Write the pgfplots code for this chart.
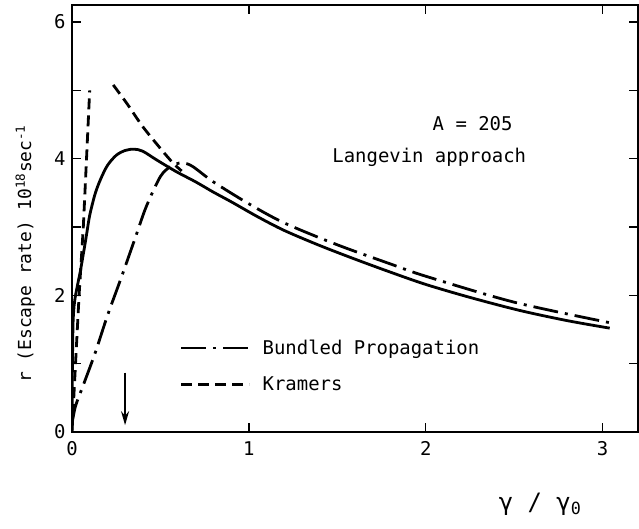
\documentclass[border=0pt]{standalone}
\usepackage{fontspec}
\setmainfont{DejaVu Sans Mono}
\usepackage{pgfplots}
\pgfplotsset{compat=1.18}
\usetikzlibrary{arrows.meta}

\begin{document}
\begin{tikzpicture}
\begin{axis}[
  scale only axis,
  width=566bp, height=427bp,
  xmin=0, xmax=3.2, ymin=0, ymax=6.25,
  xtick={0,1,2,3},
  ytick={0,1,2,3,4,5,6},
  yticklabels={0,,2,,4,,6},
  tick align=inside,
  major tick length=9bp,
  axis line style={line width=1.6bp},
  every tick/.style={black, line width=1.3bp},
  tick label style={font=\fontsize{19}{21}\selectfont},
  xticklabel style={yshift=-6bp},
  yticklabel style={xshift=-3bp},
  /pgf/number format/assume math mode=true,
  xlabel={γ / γ\textsubscript{0}},
  xlabel style={at={(axis description cs:0.827,-0.17)}, anchor=center,
    font=\fontsize{24}{28}\selectfont},
  ylabel={r (Escape rate) 10\textsuperscript{18}sec\textsuperscript{-1}},
  ylabel style={at={(axis description cs:-0.072,0.417)}, anchor=base,
    font=\fontsize{18}{21}\selectfont},
  legend style={at={(0.185,0.225)}, anchor=north west, draw=none, fill=none,
    font=\fontsize{19}{22}\selectfont, row sep=17bp,
    /tikz/every odd column/.append style={column sep=10bp}},
  legend cell align=left,
  legend image code/.code={\draw[#1] (0bp,0bp) -- (68bp,0bp);},
]

% Langevin approach
\addplot[line width=2.8bp, smooth, tension=0.5, forget plot] coordinates {
  (0,0) (0.001,0.6) (0.003,1.1) (0.006,1.6) (0.012,1.85) (0.02,2.0)
  (0.035,2.2) (0.047,2.35) (0.065,2.62) (0.083,2.9) (0.10,3.17)
  (0.13,3.48) (0.16,3.69) (0.2,3.9) (0.25,4.05) (0.3,4.12) (0.35,4.14)
  (0.4,4.11) (0.48,3.98) (0.59,3.81) (0.7,3.66) (0.8,3.51) (0.9,3.37)
  (1.05,3.15) (1.2,2.95) (1.4,2.73) (1.6,2.53) (1.8,2.34) (2.0,2.16)
  (2.25,1.97) (2.53,1.78) (2.8,1.63) (3.04,1.52)
};

% Bundled propagation
\addplot[line width=2.8bp, smooth, tension=0.5,
  dash pattern=on 25bp off 7bp on 3bp off 7bp] coordinates {
  (0,0.12) (0.02,0.38) (0.06,0.66) (0.13,1.15) (0.2,1.7) (0.28,2.27)
  (0.36,2.86) (0.42,3.3) (0.5,3.74) (0.56,3.89) (0.62,3.94) (0.68,3.89)
  (0.8,3.66) (1.0,3.34) (1.2,3.06) (1.5,2.74) (1.8,2.46) (2.0,2.28)
  (2.5,1.9) (3.04,1.6)
};
\addlegendentry{Bundled Propagation}

% Kramers, low friction
\addplot[line width=2.8bp, dash pattern=on 11bp off 6bp] coordinates {
  (0,0) (0.02,1.0) (0.04,2.0) (0.064,3.0) (0.083,4.05) (0.1,5.0)
};
\addlegendentry{Kramers}

% Kramers, high friction
\addplot[line width=2.8bp, dash pattern=on 11bp off 6bp, smooth, forget plot] coordinates {
  (0.233,5.08) (0.31,4.81) (0.4,4.47) (0.5,4.15) (0.57,3.94) (0.62,3.82)
};

\node[anchor=base, font=\fontsize{19}{22}\selectfont] at (axis cs:2.265,4.41) {A = 205};
\node[anchor=base, font=\fontsize{19}{22}\selectfont] at (axis cs:2.02,3.95) {Langevin approach};
\draw[line width=1.8bp, -{Stealth[length=14bp,width=8bp]}] (axis cs:0.3,0.87) -- (axis cs:0.3,0.1);

\end{axis}
\pgfresetboundingbox
\path[use as bounding box] ([shift={(-72bp,-97bp)}]current axis.south west)
  rectangle ([shift={(1bp,5bp)}]current axis.north east);
\end{tikzpicture}
\end{document}
